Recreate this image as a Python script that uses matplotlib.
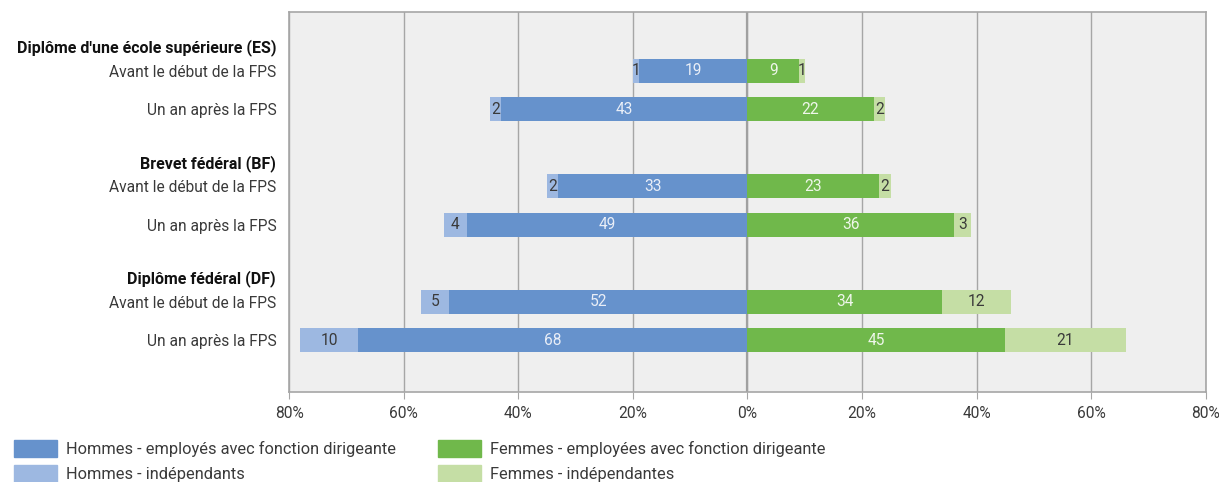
import matplotlib.pyplot as plt
from matplotlib.patches import Patch
from matplotlib.transforms import blended_transform_factory

plt.rcParams["font.family"] = ["Roboto", "DejaVu Sans"]

# ==========================================================
# DATA
# ==========================================================

groups = [
    "Diplôme d'une école supérieure (ES)",
    "Brevet fédéral (BF)",
    "Diplôme fédéral (DF)",
]
row_labels = [
    "Avant le début de la FPS",
    "Un an après la FPS",
] * 3

men_lead = [19, 43, 33, 49, 52, 68]
men_indep = [1, 2, 2, 4, 5, 10]
women_lead = [9, 22, 23, 36, 34, 45]
women_indep = [1, 2, 2, 3, 12, 21]

legend_labels = [
    "Hommes - employés avec fonction dirigeante",
    "Hommes - indépendants",
    "Femmes - employées avec fonction dirigeante",
    "Femmes - indépendantes",
]

C_MEN = "#6692cc"
C_MEN_L = "#9db8e1"
C_WOM = "#70b84b"
C_WOM_L = "#c5dea5"
TXT = "#3a3a3a"

# ==========================================================
# PLOT
# ==========================================================

ypos = [0, 1, 3, 4, 6, 7]
h = 0.63

fig = plt.figure(figsize=(12.19, 4.82), dpi=100)
ax = fig.add_axes([0.2371, 0.1867, 0.7522, 0.7884])
ax.set_facecolor("#efefef")

ax.barh(ypos, [-v for v in men_lead], height=h, color=C_MEN, zorder=3)
ax.barh(ypos, [-v for v in men_indep], left=[-v for v in men_lead],
        height=h, color=C_MEN_L, zorder=3)
ax.barh(ypos, women_lead, height=h, color=C_WOM, zorder=3)
ax.barh(ypos, women_indep, left=women_lead, height=h, color=C_WOM_L, zorder=3)

# value labels
fs = 11.2
for y, ml, mi, wl, wi in zip(ypos, men_lead, men_indep, women_lead, women_indep):
    ax.text(-ml / 2, y, str(ml), ha="center", va="center", color="#e9eef7",
            fontsize=fs, zorder=4)
    ax.text(-(ml + mi / 2), y, str(mi), ha="center", va="center",
            color=TXT, fontsize=fs, zorder=4)
    ax.text(wl / 2, y, str(wl), ha="center", va="center", color="#eef6ea",
            fontsize=fs, zorder=4)
    ax.text(wl + wi / 2, y, str(wi), ha="center", va="center",
            color=TXT, fontsize=fs, zorder=4)

ax.set_xlim(-80, 80)
ax.set_ylim(8.35, -1.53)

ax.set_xticks(range(-80, 81, 20))
ax.set_xticklabels([f"{abs(v)}%" for v in range(-80, 81, 20)])
ax.set_yticks(ypos)
ax.set_yticklabels(row_labels)

ax.tick_params(axis="x", length=5, color="#a6a6a6", labelsize=fs,
               labelcolor=TXT, pad=5)
ax.tick_params(axis="y", length=0, labelsize=fs, labelcolor=TXT, pad=9)

ax.grid(axis="x", color="#a6a6a6", linewidth=1, zorder=1)
ax.axvline(0, color="#a0a0a0", linewidth=1.6, zorder=2)
for s in ax.spines.values():
    s.set_color("#a6a6a6")
    s.set_linewidth(1.2)

# group headers
tr = blended_transform_factory(ax.transAxes, ax.transData)
for g, y in zip(groups, [0, 3, 6]):
    ax.text(-0.0142, y - 0.6, g, transform=tr, ha="right", va="center",
            fontsize=11.5, fontweight="bold", color="#111111")

# legend
handles = [
    Patch(color=C_MEN),
    Patch(color=C_MEN_L),
    Patch(color=C_WOM),
    Patch(color=C_WOM_L),
]
fig.legend(handles, legend_labels, ncol=2, loc="upper left",
           bbox_to_anchor=(0.002, 0.11), frameon=False,
           handlelength=2.6, handleheight=1.2, handletextpad=0.55,
           columnspacing=2.6, labelspacing=0.45, borderpad=0.2,
           labelcolor=TXT, prop={"size": 11.8})

plt.savefig("out.png", dpi=100)
plt.close()
